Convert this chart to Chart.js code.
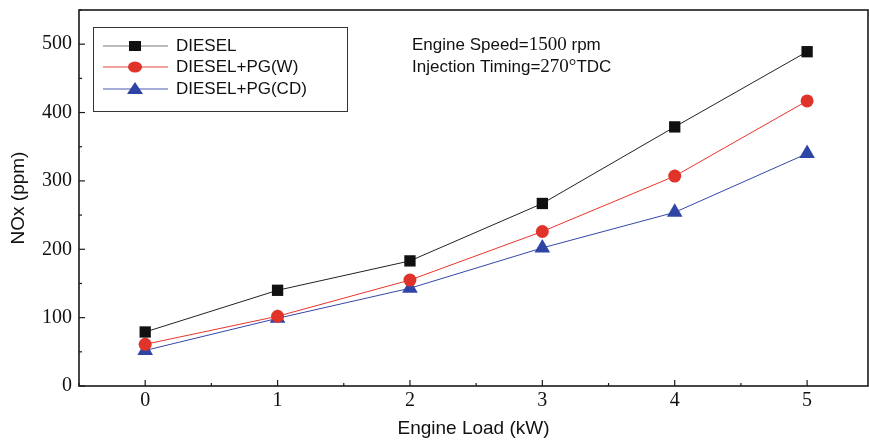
<!DOCTYPE html>
<html>
<head>
<meta charset="utf-8">
<script src="https://cdn.jsdelivr.net/npm/chart.js@4"></script>
<style>
  html, body { margin: 0; padding: 0; background: #fff; }
  #wrap { width: 869px; height: 440px; }
</style>
</head>
<body>
<div id="wrap"><canvas id="noxChart" width="869" height="440"></canvas></div>
<script>
// ===== Data =====
const loads = [0, 1, 2, 3, 4, 5];
const diesel = [79, 140, 183, 267, 379, 489];
const dieselPgW = [61, 102, 155, 226, 307, 417];
const dieselPgCD = [52, 99, 143, 202, 254, 340];
const yTicks = [0, 100, 200, 300, 400, 500];
const seriesNames = ["DIESEL", "DIESEL+PG(W)", "DIESEL+PG(CD)"];

const toPoints = vals => loads.map((x, i) => ({ x, y: vals[i] }));

const SANS = "'Liberation Sans', Arial, sans-serif";
const SERIF = "'Liberation Serif', 'Times New Roman', serif";

// ===== Frame, inward ticks, legend box, note =====
const framePlugin = {
  id: "frame",
  afterDraw(chart) {
    const { ctx, chartArea: a, scales } = chart;
    const xs = scales.x, ys = scales.y;
    ctx.save();
    ctx.strokeStyle = "#1a1a1a";
    ctx.lineWidth = 1.6;
    ctx.strokeRect(a.left, a.top, a.right - a.left, a.bottom - a.top);

    // y ticks (major 100, minor 50)
    ctx.lineWidth = 1.2;
    for (let v = 0; v <= 550; v += 50) {
      const py = ys.getPixelForValue(v);
      const len = v % 100 === 0 ? 6 : 3;
      ctx.beginPath();
      ctx.moveTo(a.left, py);
      ctx.lineTo(a.left + len, py);
      ctx.stroke();
    }
    // x ticks (major 1, minor 0.5)
    for (let v = -0.5; v <= xs.max; v += 0.5) {
      const px = xs.getPixelForValue(v);
      const len = Number.isInteger(v) ? 6 : 3;
      ctx.beginPath();
      ctx.moveTo(px, a.bottom);
      ctx.lineTo(px, a.bottom - len);
      ctx.stroke();
    }

    // legend box
    ctx.fillStyle = "#fff";
    ctx.fillRect(93, 27, 254, 84);
    ctx.strokeStyle = "#333";
    ctx.lineWidth = 1;
    ctx.strokeRect(93.5, 27.5, 254, 84);
    const rows = [46, 67, 89];
    const legendLine = ["#777", "#e8453c", "#4a5bb0"];
    chart.data.datasets.forEach((ds, i) => {
      const y = rows[i];
      ctx.strokeStyle = legendLine[i];
      ctx.lineWidth = 1.2;
      ctx.beginPath();
      ctx.moveTo(103, y);
      ctx.lineTo(168, y);
      ctx.stroke();
      drawMarker(ctx, ds.pointStyle, 135, y, ds.pointBackgroundColor);
      ctx.fillStyle = "#111";
      ctx.font = "17px " + SANS;
      ctx.textBaseline = "middle";
      ctx.textAlign = "left";
      ctx.fillText(ds.label, 176, y);
    });

    // note text, words in sans and numbers in serif
    drawMixed(ctx, [["Engine Speed=", SANS], ["1500", SERIF], [" rpm", SANS]], 412, 45);
    drawMixed(ctx, [["Injection Timing=", SANS], ["270", SERIF], ["\u00b0", SERIF], ["TDC", SANS]], 412, 67);
    ctx.restore();
  }
};

function drawMixed(ctx, parts, x, y) {
  ctx.fillStyle = "#111";
  ctx.textBaseline = "middle";
  ctx.textAlign = "left";
  parts.forEach(([txt, fam]) => {
    ctx.font = (fam === SERIF ? "19px " : "17px ") + fam;
    ctx.fillText(txt, x, y);
    x += ctx.measureText(txt).width;
  });
}

function drawMarker(ctx, style, x, y, color) {
  ctx.fillStyle = color;
  ctx.beginPath();
  if (style === "rect") {
    ctx.rect(x - 6, y - 5, 12, 10);
  } else if (style === "circle") {
    ctx.ellipse(x, y, 7, 5.5, 0, 0, Math.PI * 2);
  } else {
    ctx.moveTo(x, y - 7);
    ctx.lineTo(x + 8, y + 5);
    ctx.lineTo(x - 8, y + 5);
    ctx.closePath();
  }
  ctx.fill();
}

// ===== Chart =====
const ctx = document.getElementById("noxChart").getContext("2d");
new Chart(ctx, {
  type: "line",
  data: {
    datasets: [
      {
        label: seriesNames[0],
        data: toPoints(diesel),
        borderColor: "#222",
        borderWidth: 1,
        pointStyle: "rect",
        pointRadius: 8,
        pointBackgroundColor: "#111",
        pointBorderWidth: 0
      },
      {
        label: seriesNames[1],
        data: toPoints(dieselPgW),
        borderColor: "#e8352b",
        borderWidth: 1,
        pointStyle: "circle",
        pointRadius: 6.5,
        pointBackgroundColor: "#e0342a",
        pointBorderWidth: 0
      },
      {
        label: seriesNames[2],
        data: toPoints(dieselPgCD),
        borderColor: "#3447a8",
        borderWidth: 1,
        pointStyle: "triangle",
        pointRadius: 9,
        pointBackgroundColor: "#2f45a6",
        pointBorderWidth: 0
      }
    ]
  },
  options: {
    responsive: false,
    animation: false,
    layout: { autoPadding: false, padding: { top: 10, right: 1, left: 0, bottom: 0 } },
    plugins: { legend: { display: false }, tooltip: { enabled: false } },
    scales: {
      x: {
        type: "linear",
        min: -0.5,
        max: 5.46,
        afterBuildTicks: s => { s.ticks = loads.map(v => ({ value: v })); },
        afterFit: s => { s.height = 54; s.paddingLeft = 0; s.paddingRight = 0; },
        grid: { display: false, drawTicks: false },
        border: { display: false },
        ticks: {
          color: "#111",
          padding: 3,
          font: { family: SERIF, size: 20 }
        },
        title: {
          display: true,
          text: "Engine Load (kW)",
          color: "#111",
          font: { family: SANS, size: 19 },
          padding: { top: 3, bottom: 0 }
        }
      },
      y: {
        min: 0,
        max: 550,
        afterBuildTicks: s => { s.ticks = yTicks.map(v => ({ value: v })); },
        afterFit: s => { s.width = 79; s.paddingTop = 0; s.paddingBottom = 0; },
        grid: { display: false, drawTicks: false },
        border: { display: false },
        ticks: {
          color: "#111",
          padding: 7,
          font: { family: SERIF, size: 20 }
        },
        title: {
          display: true,
          text: "NOx (ppm)",
          color: "#111",
          font: { family: SANS, size: 19 },
          padding: { top: 7, bottom: 0 }
        }
      }
    }
  },
  plugins: [framePlugin]
});
</script>
</body>
</html>
